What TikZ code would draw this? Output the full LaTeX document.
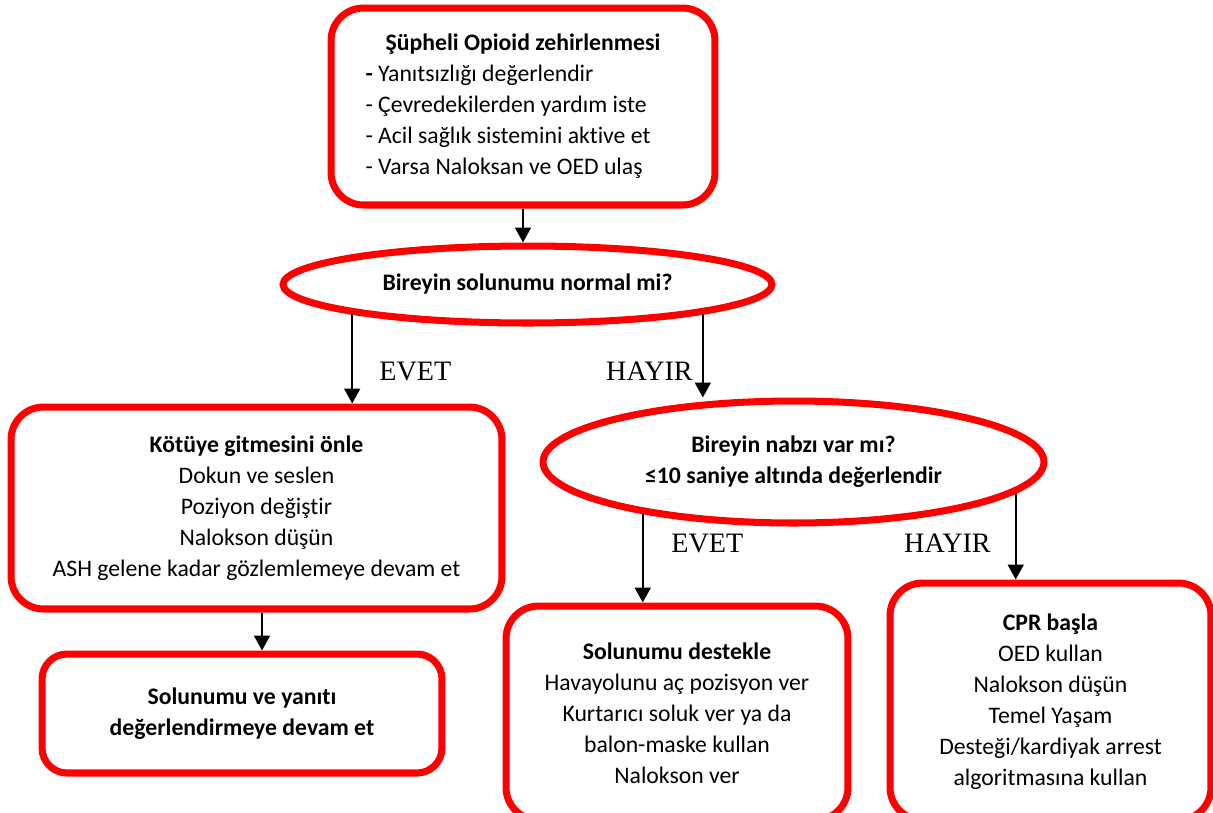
\documentclass[tikz,border=0pt]{standalone}
\usepackage{fontspec}
\setmainfont[Ligatures=NoCommon]{Carlito}
\newfontfamily\labelfont{Liberation Serif}
\usepackage{xcolor}
\usepackage{tikz}
\usetikzlibrary{arrows.meta,shapes.geometric,positioning,calc}

\definecolor{boxred}{HTML}{FF0000}

\tikzset{
  box/.style={draw=boxred, line width=4pt, rounded corners=0.65cm, fill=white,
    align=center, inner sep=0pt, font=\fontsize{13.5}{17.6}\selectfont},
  question/.style={ellipse, draw=boxred, line width=4pt, fill=white,
    align=center, inner sep=0pt, font=\bfseries\fontsize{13.5}{17.6}\selectfont},
  answer/.style={font=\labelfont\fontsize{16}{18}\selectfont, inner sep=0pt},
  arr/.style={-{Triangle[length=8.5pt,width=9pt]}, line width=1.3pt, black},
}

\begin{document}
\begin{tikzpicture}[x=0.02cm, y=-0.02cm]

  \useasboundingbox (0,0) rectangle (1213,812);

  \node[box, align=flush left, text width=6.3cm, minimum width=7.68cm, minimum height=3.94cm]
    (suspect) at (523,106.5) {\makebox[6.3cm]{\textbf{Şüpheli Opioid zehirlenmesi}}\\
    \textbf{-} Yanıtsızlığı değerlendir\\
    - Çevredekilerden yardım iste\\
    - Acil sağlık sistemini aktive et\\
    - Varsa Naloksan ve OED ulaş};
  \node[question, minimum width=9.78cm, minimum height=1.54cm]
    (breath) at (527.5,284.5) {Bireyin solunumu normal mi?};
  \node[box, minimum width=9.82cm, minimum height=4.04cm]
    (prevent) at (256.5,508) {\textbf{Kötüye gitmesini önle}\\
    Dokun ve seslen\\
    Poziyon değiştir\\
    Nalokson düşün\\
    ASH gelene kadar gözlemlemeye devam et};
  \node[box, font=\bfseries\fontsize{13.5}{17.6}\selectfont, rounded corners=0.5cm,
    minimum width=8.0cm, minimum height=2.38cm]
    (monitor) at (242,713.5) {Solunumu ve yanıtı\\ değerlendirmeye devam et};
  \node[question, minimum width=10.02cm, minimum height=2.44cm]
    (pulse) at (793.5,462) {Bireyin nabzı var mı?\\ ≤10 saniye altında değerlendir};
  \node[box, minimum width=6.84cm, minimum height=4.28cm]
    (support) at (677,713) {\textbf{Solunumu destekle}\\
    Havayolunu aç pozisyon ver\\
    Kurtarıcı soluk ver ya da\\
    balon-maske kullan\\
    Nalokson ver};
  \node[box, minimum width=6.42cm, minimum height=4.74cm]
    (cpr) at (1050.5,701.5) {\textbf{CPR başla}\\
    OED kullan\\
    Nalokson düşün\\
    Temel Yaşam\\
    Desteği/kardiyak arrest\\
    algoritmasına kullan};

  \coordinate (down) at ($(prevent.south)+(5.5,0)$);

  \draw[arr] (suspect.south) -- (suspect.south |- breath.north);
  \draw[arr] (breath.south west) -- (breath.south west |- prevent.north);
  \draw[arr] (breath.south east) -- (breath.south east |- pulse.north);
  \draw[arr] (down) -- (down |- monitor.north);
  \draw[arr] (pulse.-161) -- (pulse.-161 |- support.north);
  \draw[arr] (pulse.-8) -- (pulse.-8 |- cpr.north);

  \node[answer, anchor=base west] (yes1) at (379,380) {EVET};
  \node[answer, anchor=base east] (no1) at (693,380) {HAYIR};
  \node[answer, anchor=base west] (yes2) at (671,552) {EVET};
  \node[answer, anchor=base east] (no2) at (991,552) {HAYIR};

\end{tikzpicture}
\end{document}
